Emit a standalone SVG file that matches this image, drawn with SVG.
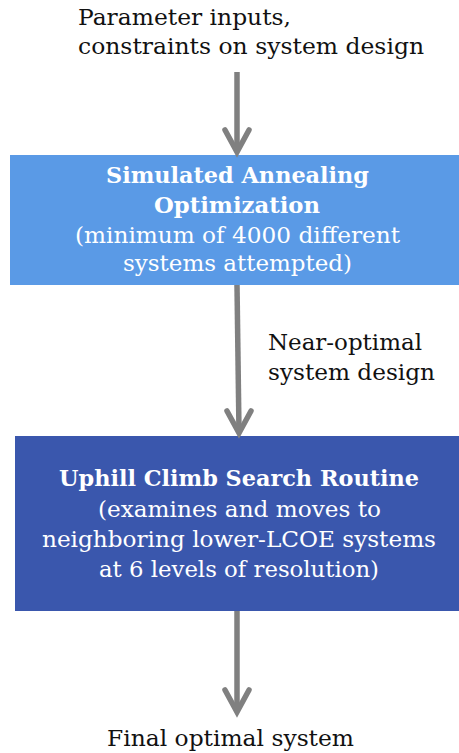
<svg xmlns="http://www.w3.org/2000/svg" width="459" height="753" viewBox="0 0 459 753">
<defs>
<style>
.t{font-family:"DejaVu Serif","Liberation Serif",serif;font-size:22px;fill:#111}
.w{font-family:"DejaVu Serif","Liberation Serif",serif;font-size:22px;fill:#fff;text-anchor:middle}
.b{font-weight:bold}
.c{stroke:#808080;stroke-width:5.5;fill:none}
.h{stroke:#808080;stroke-width:5.5;fill:none;stroke-linecap:round;stroke-linejoin:miter}
</style>
</defs>
<rect width="459" height="753" fill="#fff"/>
<g id="input">
<text class="t" x="78" y="25" textLength="213" lengthAdjust="spacingAndGlyphs">Parameter inputs,</text>
<text class="t" x="78" y="54" textLength="346" lengthAdjust="spacingAndGlyphs">constraints on system design</text>
</g>
<g id="sa">
<rect x="10" y="155" width="449" height="130" fill="#5A9AE6"/>
<text class="w b" x="237.5" y="183" textLength="263" lengthAdjust="spacingAndGlyphs">Simulated Annealing</text>
<text class="w b" x="237" y="213" textLength="166" lengthAdjust="spacingAndGlyphs">Optimization</text>
<text class="w" x="237.5" y="243" textLength="325" lengthAdjust="spacingAndGlyphs">(minimum of 4000 different</text>
<text class="w" x="237.5" y="271" textLength="229" lengthAdjust="spacingAndGlyphs">systems attempted)</text>
</g>
<g id="uphill">
<rect x="15" y="436" width="444" height="175" fill="#3A57AD"/>
<text class="w b" x="239" y="486" textLength="360" lengthAdjust="spacingAndGlyphs">Uphill Climb Search Routine</text>
<text class="w" x="239.5" y="517" textLength="283" lengthAdjust="spacingAndGlyphs">(examines and moves to</text>
<text class="w" x="239" y="547" textLength="394" lengthAdjust="spacingAndGlyphs">neighboring lower-LCOE systems</text>
<text class="w" x="239" y="577" textLength="280" lengthAdjust="spacingAndGlyphs">at 6 levels of resolution)</text>
</g>
<g id="final">
<text class="t" x="230.5" y="746" text-anchor="middle" textLength="247" lengthAdjust="spacingAndGlyphs">Final optimal system</text>
</g>
<g id="connectors">
<line class="c" x1="237" y1="72" x2="237" y2="151"/>
<polyline class="h" points="225,130 237,152 249,130"/>
<line class="c" x1="237" y1="285" x2="239" y2="432"/>
<polyline class="h" points="227,411 239,433 251,411"/>
<line class="c" x1="237" y1="611" x2="237" y2="711"/>
<polyline class="h" points="225,690 237,712 249,690"/>
<text class="t" x="268" y="350" textLength="154" lengthAdjust="spacingAndGlyphs">Near-optimal</text>
<text class="t" x="268" y="380" textLength="167" lengthAdjust="spacingAndGlyphs">system design</text>
</g>
</svg>
